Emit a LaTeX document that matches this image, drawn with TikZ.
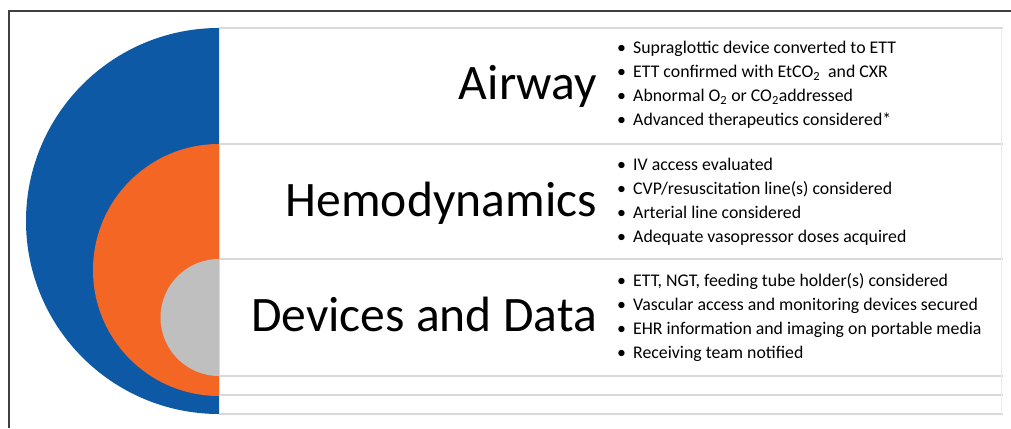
\documentclass[tikz,border=0pt]{standalone}
\usepackage{fontspec}
\setmainfont{Carlito}
\definecolor{airblue}{HTML}{0E59A6}
\definecolor{hemorange}{HTML}{F46624}
\definecolor{devgray}{HTML}{BFBFBF}
\definecolor{rulegray}{HTML}{D9D9D9}
\definecolor{framegray}{HTML}{404040}
\newcommand{\itm}[1]{\makebox[16pt][l]{\textbullet}#1}
\begin{document}
\begin{tikzpicture}[x=1pt,y=1pt,
    title/.style={anchor=base east,inner sep=0pt,font=\fontsize{49.6}{58}\selectfont},
    items/.style={anchor=west,inner sep=0pt,align=left,font=\fontsize{17.8}{24}\selectfont},
    rowline/.style={draw=rulegray,line width=1.5pt}]
        \useasboundingbox (0,0) rectangle (1011,428);

        % frame
        \draw[framegray,line width=1.5pt] (9,0) -- (9,417) -- (1011,417);

        % nested half discs
        \fill[airblue] (219,400) arc[start angle=90,end angle=270,radius=193] -- cycle;
        \fill[hemorange] (219,284) arc[start angle=90,end angle=270,radius=126] -- cycle;
        \fill[devgray] (219,169) arc[start angle=90,end angle=270,radius=58.5] -- cycle;

        % row lines
        \foreach \y in {400,284,169,52,33,14}
            \draw[rowline] (219,\y) -- (1003,\y);
        \draw[rulegray!50,line width=0.8pt] (1001,400) -- (1001,14);

        \node[title] (airway) at (597,328){Airway};
        \node[title] (hemo) at (597,211){Hemodynamics};
        \node[title] (devices) at (597,96){Devices and Data};

        \node[items] (airwaylist) at (617,343){\itm{Supraglottic device converted to ETT}\\
            \itm{ETT confirmed with EtCO\textsubscript{2}\ \ and CXR}\\
            \itm{Abnormal O\textsubscript{2} or CO\textsubscript{2}addressed}\\
            \itm{Advanced therapeutics considered*}};
        \node[items] (hemolist) at (617,226){\itm{IV access evaluated}\\
            \itm{CVP/resuscitation line(s) considered}\\
            \itm{Arterial line considered}\\
            \itm{Adequate vasopressor doses acquired}};
        \node[items] (deviceslist) at (617,110){\itm{ETT, NGT, feeding tube holder(s) considered}\\
            \itm{Vascular access and monitoring devices secured}\\
            \itm{EHR information and imaging on portable media}\\
            \itm{Receiving team notified}};
    \end{tikzpicture}
\end{document}
